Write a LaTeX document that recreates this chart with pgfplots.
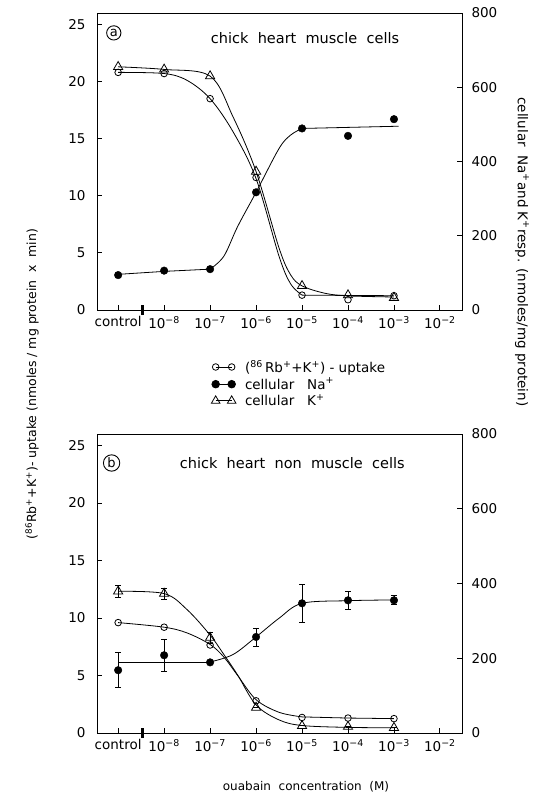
\documentclass[border=0pt]{standalone}
\usepackage{fontspec}
\setmainfont{DejaVu Sans}
\usepackage{pgfplots}
\pgfplotsset{compat=1.18}

\pgfplotsset{
  base/.style={scale only axis, width=365pt, xmin=-0.46, xmax=7.48,
    clip=false, tick align=inside, major tick length=5pt,
    /pgf/number format/assume math mode=true,
    tick label style={font=\fontsize{13.5}{15}\selectfont},
    axis line style={line width=0.9pt}, every tick/.style={line width=0.9pt, black}},
  leftax/.style={base, ymin=0, ymax=26, ytick={0,5,...,25}, ytick pos=left,
    xtick={0,...,7}, xtick pos=bottom,
    xticklabels={control,10\textsuperscript{−8},10\textsuperscript{−7},10\textsuperscript{−6},10\textsuperscript{−5},10\textsuperscript{−4},10\textsuperscript{−3},10\textsuperscript{−2}},
    yticklabel shift=8pt, xticklabel shift=3pt},
  rightax/.style={base, ymin=0, ymax=800, ytick={0,200,...,800},
    axis y line*=right, axis x line=none, yticklabel shift=6pt},
  curve/.style={black, line width=0.8pt, no marks},
  curvesm/.style={curve, smooth, tension=0.55},
  mO/.style={only marks, mark=o, mark size=3.3pt, mark options={fill=white, line width=0.8pt}},
  mF/.style={only marks, mark=*, mark size=3.8pt, mark options={fill=black}},
  mT/.style={only marks, mark=triangle, mark size=5.3pt, mark options={fill=white, line width=0.8pt}},
  eb/.style={error bars/.cd, y dir=both, y explicit, error bar style={line width=0.8pt, black}, error mark options={rotate=90, mark size=3pt, line width=0.8pt, black}},
}

\begin{document}
\begin{tikzpicture}
\useasboundingbox (0pt,0pt) rectangle (538pt,802pt);

% ================= Panel a =================
\begin{axis}[leftax, height=297pt, at={(97pt,492pt)}, anchor=south west,
  legend style={at={(0.31,-0.158)}, anchor=north west, draw=none, fill=none,
    font=\fontsize{13.5}{14}\selectfont, row sep=0pt, inner sep=1pt,
    /tikz/every odd column/.append style={column sep=7pt}},
  legend cell align=left,
  legend image code/.code={\draw[#1] plot coordinates {(0pt,0pt) (16pt,0pt)};}]
% uptake curve + points
\addplot[curvesm, forget plot] coordinates {(0,20.8)(1,20.7)(1.5,20.1)(2,18.5)(2.5,15.6)(3,11.5)(3.5,4.7)(3.75,2.3)(4,1.3)};
\addplot[curve, forget plot] coordinates {(4,1.3)(6,1.25)};
\addplot[mO, forget plot] coordinates {(0,20.8)(1,20.7)(2,18.5)(3,11.6)(4,1.3)(5,0.9)(6,1.25)};
\draw[line width=1.1pt] (axis cs:0.50,-0.45) -- (axis cs:0.50,0.45);
\draw[line width=1.1pt] (axis cs:0.54,-0.45) -- (axis cs:0.54,0.45);
\node[circle, draw, line width=0.9pt, inner sep=1.2pt, font=\fontsize{13}{15}\selectfont] at (rel axis cs:0.046,0.933) {a};
\node[font=\fontsize{14.5}{16}\selectfont] at (rel axis cs:0.57,0.916) {chick\ \ heart\ \ muscle\ \ cells};
\addlegendimage{black, line width=0.8pt, mark=o, mark size=3.3pt, mark options={fill=white}}
\addlegendentry{(\textsuperscript{86}\,Rb\textsuperscript{+}+K\textsuperscript{+}) - uptake}
\addlegendimage{black, line width=0.8pt, mark=*, mark size=3.8pt}
\addlegendentry{cellular\ \ \ Na\textsuperscript{+}}
\addlegendimage{black, line width=0.8pt, mark=triangle, mark size=5pt, mark options={fill=white}}
\addlegendentry{cellular\ \ \ K\textsuperscript{+}}
\end{axis}
\begin{axis}[rightax, height=297pt, at={(97pt,492pt)}, anchor=south west]
% Na+
\addplot[curve] coordinates {(0,96)(1,104)(2,110)};
\addplot[curvesm] coordinates {(2,110)(2.3,145)(2.6,225)(3,317)(3.5,435)(3.75,471)(4,489)};
\addplot[curve] coordinates {(4,489)(6.1,495)};
\addplot[mF] coordinates {(0,94)(1,106)(2,110)(3,317)(4,489)(5,469)(6,514)};
% K+
\addplot[curvesm] coordinates {(0,655)(1,648)(2,630)(2.5,520)(3,373)(3.5,167)(3.75,95)(4,65)(4.5,45)(5,38)(6,35)};
\addplot[mT] coordinates {(0,655)(1,648)(2,630)(3,373)(4,65)(5,40)(6,33)};
\end{axis}

% ================= Panel b =================
\begin{axis}[leftax, height=299pt, at={(97pt,69pt)}, anchor=south west]
\addplot[curvesm] coordinates {(0,9.6)(1,9.2)(1.5,8.7)(2,7.7)(2.3,6.6)(2.6,5.0)(3,2.9)(3.5,1.8)(4,1.4)};
\addplot[curve] coordinates {(4,1.4)(5,1.3)(6,1.25)};
\addplot[mO] coordinates {(0,9.6)(1,9.2)(2,7.65)(3,2.8)(4,1.35)(5,1.3)(6,1.25)};
\draw[line width=1.1pt] (axis cs:0.50,-0.45) -- (axis cs:0.50,0.45);
\draw[line width=1.1pt] (axis cs:0.54,-0.45) -- (axis cs:0.54,0.45);
\node[circle, draw, line width=0.9pt, inner sep=1.2pt, font=\fontsize{13}{15}\selectfont] at (rel axis cs:0.04,0.903) {b};
\node[font=\fontsize{14.5}{16}\selectfont] at (rel axis cs:0.535,0.903) {chick\ \ heart\ \ non\ \ muscle\ \ cells};
\end{axis}
\begin{axis}[rightax, height=299pt, at={(97pt,69pt)}, anchor=south west]
% Na+
\addplot[curve] coordinates {(0,190)(2,190)};
\addplot[curvesm] coordinates {(2,190)(2.5,210)(3,257)(3.5,307)(4,347)(5,354)(6,356)};
\addplot[mF, eb] table[y error=e] {
x y e
0 168 47
1 208 43
2 189 0
3 257 24
4 347 50
5 355 25
6 355 12
};
% K+
\addplot[curvesm] coordinates {(0,379)(1,373)(1.5,330)(2,262)(2.3,210)(2.6,155)(3,75)(3.5,35)(4,20)(5,15)(6,14)};
\addplot[mT, eb] table[y error=e] {
x y e
0 379 15
1 373 15
2 255 14
3 68 0
4 19 0
5 17 0
6 14 0
};
\end{axis}

% axis titles
\node[rotate=90, font=\fontsize{12.5}{14}\selectfont] at (32pt,418pt) {(\textsuperscript{86}Rb\textsuperscript{+}+K\textsuperscript{+})- uptake (nmoles / mg protein\ \ x\ \ min)};
\node[rotate=-90, font=\fontsize{13.5}{15}\selectfont] at (522pt,550pt) {cellular\ \ Na\textsuperscript{+}and K\textsuperscript{+}resp. (nmoles/mg protein)};
\node[font=\fontsize{12}{14}\selectfont] at (306pt,15pt) {ouabain\ \ concentration\ \ (M)};
\end{tikzpicture}
\end{document}
